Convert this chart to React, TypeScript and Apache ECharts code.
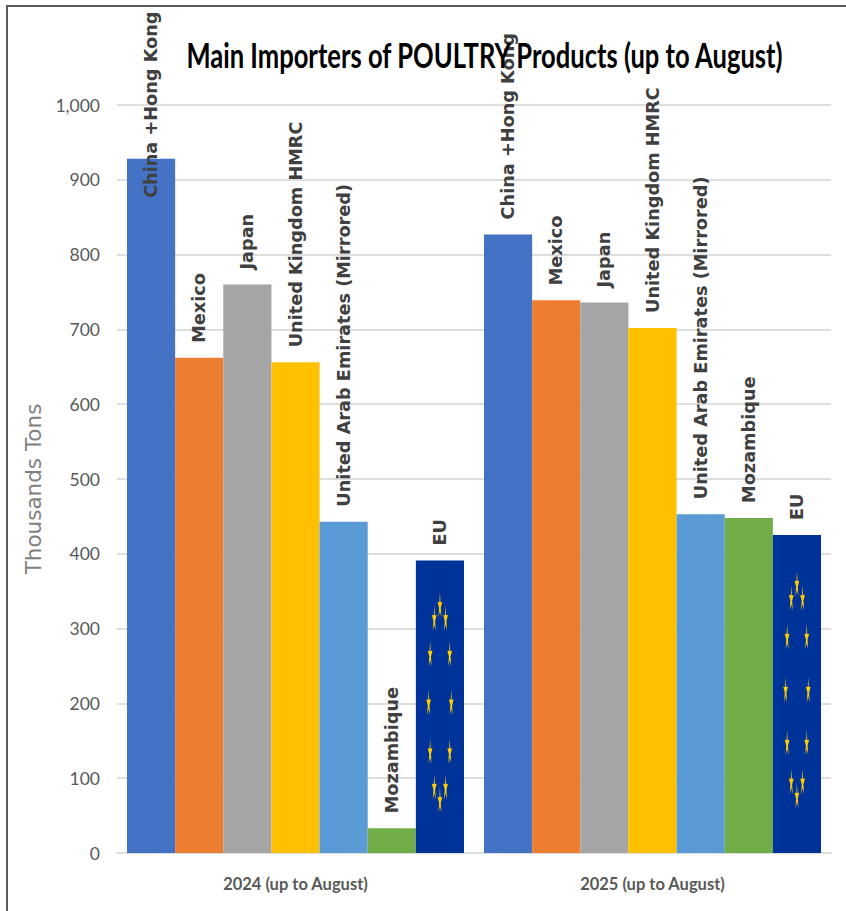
import React, { useEffect, useRef } from "react";
import * as echarts from "echarts";

const titleText = "Main Importers of POULTRY Products (up to August)";
const periods = ["2024 (up to August)", "2025 (up to August)"];
const countries = ["China +Hong Kong", "Mexico", "Japan", "United Kingdom HMRC", "United Arab Emirates (Mirrored)", "Mozambique", "EU"];
const china = [928, 827];
const mexico = [662, 739];
const japan = [760, 736];
const uk = [656, 702];
const uae = [443, 453];
const mozambique = [33, 448];
const eu = [391, 425];
const colors = ["#4472C4", "#ED7D31", "#A5A5A5", "#FFC000", "#5B9BD5", "#70AD47", "#00339A"];
const seriesValues = [china, mexico, japan, uk, uae, mozambique, eu];

const CATEGORY_GAP = 0.056;
const narrow = "Lato, sans-serif";
const wide = "'DejaVu Sans', Verdana, sans-serif";

function starPoints(cx: number, cy: number, w: number, h: number) {
  const pts: number[][] = [];
  for (let i = 0; i < 10; i++) {
    const a = -Math.PI / 2 + (i * Math.PI) / 5;
    const r = i % 2 === 0 ? 1 : 0.36;
    pts.push([cx + (Math.cos(a) * r * w) / 2, cy + (Math.sin(a) * r * h) / 2]);
  }
  return pts;
}

export default function App() {
  const ref = useRef<HTMLDivElement>(null);
  useEffect(() => {
    const chart = echarts.init(ref.current!, undefined, { renderer: "svg" });
    const barSeries = countries.map((name, s) => ({
      type: "bar" as const,
      name,
      barGap: 0,
      barCategoryGap: CATEGORY_GAP * 100 + "%",
      itemStyle: { color: colors[s] },
      label: {
        show: true,
        position: "top" as const,
        distance: 15,
        rotate: 90,
        align: "left" as const,
        verticalAlign: "middle" as const,
        formatter: "{a}",
        fontFamily: wide,
        fontWeight: "bold" as const,
        fontSize: 17.7,
        color: "#404040",
      },
      data: seriesValues[s].map((value, i) =>
        s === 0 && i === 0 ? { value, label: { distance: -39 } } : value
      ),
    }));
    chart.setOption({
      animation: false,
      backgroundColor: "#ffffff",
      grid: { left: 117, right: 15, top: 105, bottom: 58, containLabel: false },
      xAxis: {
        type: "category",
        data: periods,
        axisTick: { show: false },
        axisLine: { lineStyle: { color: "#DEDEDE", width: 2 } },
        axisLabel: { fontFamily: narrow, fontWeight: "bold", fontSize: 16.5, color: "#595959", margin: 22 },
      },
      yAxis: {
        type: "value",
        min: 0,
        max: 1000,
        interval: 100,
        name: "Thousands Tons",
        nameLocation: "middle",
        nameGap: 64,
        nameTextStyle: { fontFamily: wide, fontSize: 21.5, color: "#7F7F7F", padding: [0, 20, 0, 0] },
        axisLine: { show: false },
        axisTick: { show: false },
        axisLabel: {
          fontFamily: narrow,
          fontSize: 17.5,
          color: "#595959",
          margin: 17,
          formatter: (v: number) => v.toLocaleString("en-US"),
        },
        splitLine: { lineStyle: { color: "#DEDEDE", width: 2 } },
      },
      graphic: [
        {
          type: "polyline",
          silent: true,
          shape: { points: [[7, 911], [7, 6], [846, 6]] },
          style: { stroke: "#595959", lineWidth: 2, fill: "none" },
        },
        {
          type: "text",
          silent: true,
          z: 100,
          x: 484.5,
          y: 54,
          scaleX: 0.752,
          style: {
            text: titleText,
            textAlign: "center",
            textVerticalAlign: "middle",
            fontFamily: narrow,
            fontWeight: "bold",
            fontSize: 34,
            fill: "#000000",
          },
        },
      ],
      series: [
        ...barSeries,
        {
          type: "custom",
          silent: true,
          z: 5,
          data: eu.map((v, i) => [i, v]),
          encode: { x: 0, y: 1 },
          renderItem: (_p: unknown, api: any) => {
            const [cx, y0] = api.coord([api.value(0), 0]);
            const yTop = api.coord([api.value(0), api.value(1)])[1];
            const band = api.size([1, 0])[0];
            const bw = (band * (1 - CATEGORY_GAP)) / 7;
            const x = cx + 3 * bw;
            const h = y0 - yTop;
            const cy = yTop + h / 2 - 3;
            const ry = h / 3;
            const rx = bw * 0.235;
            const children = [];
            for (let k = 0; k < 12; k++) {
              const a = (k * Math.PI) / 6;
              children.push({
                type: "polygon",
                shape: { points: starPoints(x + Math.sin(a) * rx, cy - Math.cos(a) * ry, 5, 28) },
                style: { fill: "#FFCC00" },
              });
            }
            return { type: "group", children };
          },
        },
      ],
    });
    return () => chart.dispose();
  }, []);
  return <div ref={ref} style={{ position: "absolute", left: 0, top: 0, width: 846, height: 911 }} />;
}
